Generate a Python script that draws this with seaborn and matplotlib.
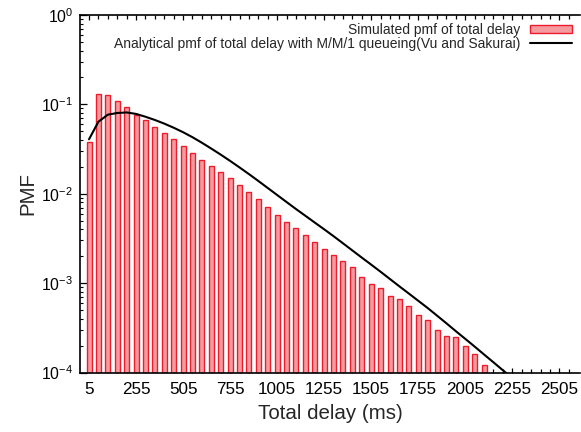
import matplotlib
matplotlib.use('Agg')
import matplotlib.pyplot as plt
import seaborn as sns

# delay bins (ms) for the simulated histogram
delays = [5, 55, 105, 155, 205, 255, 305, 355, 405, 455,
          505, 555, 605, 655, 705, 755, 805, 855, 905, 955,
          1005, 1055, 1105, 1155, 1205, 1255, 1305, 1355, 1405, 1455,
          1505, 1555, 1605, 1655, 1705, 1755, 1805, 1855, 1905, 1955,
          2005, 2055, 2105]
sim_pmf = [0.0377, 0.130, 0.126, 0.108, 0.0926, 0.0766, 0.0663, 0.0554, 0.0475, 0.0407,
           0.0340, 0.0289, 0.0241, 0.0205, 0.0174, 0.0150, 0.0126, 0.0104, 0.00869, 0.00711,
           0.00581, 0.00479, 0.00410, 0.00349, 0.00290, 0.00242, 0.00207, 0.00176, 0.00150, 0.00117,
           0.000967, 0.000877, 0.000724, 0.000664, 0.000560, 0.000445, 0.000384, 0.000299, 0.000256, 0.000250,
           0.000199, 0.000162, 0.000122]

# analytical curve (M/M/1, Vu and Sakurai)
line_delays = delays + [2155, 2205, 2255]
ana_pmf = [0.0407, 0.0640, 0.0767, 0.0801, 0.0812, 0.0782, 0.0727, 0.0669, 0.0609, 0.0548,
           0.0488, 0.0429, 0.0372, 0.0320, 0.0274, 0.0233, 0.0197, 0.0166, 0.0139, 0.0116,
           0.00968, 0.00808, 0.00675, 0.00567, 0.00476, 0.00400, 0.00335, 0.00279, 0.00232, 0.00193,
           0.00161, 0.00134, 0.00111, 0.000920, 0.000765, 0.000635, 0.000527, 0.000433, 0.000355, 0.000290,
           0.000238, 0.000195, 0.000159, 0.000130, 0.000106, 0.0000867]

xtick_pos = [5, 255, 505, 755, 1005, 1255, 1505, 1755, 2005, 2255, 2505]
xtick_labels = ['5', '255', '505', '755', '1005', '1255', '1505', '1755', '2005', '2255', '2505']
minor_pos = [5 + 50 * k for k in range(52)]

sns.set_style('ticks')
plt.rcParams['font.family'] = ['Liberation Sans', 'DejaVu Sans']

fig = plt.figure(figsize=(5.81, 4.32), dpi=100)
ax = fig.add_axes([0.1377, 0.1377, 0.8606, 0.8276])

sns.barplot(x=delays, y=sim_pmf, native_scale=True, width=0.53, saturation=1,
            color='#f59a9e', edgecolor='#ee1c2a', linewidth=1.0,
            label='Simulated pmf of total delay', ax=ax)
sns.lineplot(x=line_delays, y=ana_pmf, color='black', linewidth=1.5,
             label='Analytical pmf of total delay with M/M/1 queueing(Vu and Sakurai)', ax=ax)

ax.set_yscale('log')
ax.set_ylim(1e-4, 1)
ax.set_xlim(-43, 2615)
ax.set_xticks(xtick_pos)
ax.set_xticklabels(xtick_labels)
ax.set_xticks(minor_pos, minor=True)

ax.tick_params(axis='both', which='both', direction='in', top=True, right=False,
               colors='black')
ax.tick_params(axis='x', which='major', length=3.5, width=0.9, pad=7, labelsize=12.3)
ax.tick_params(axis='x', which='minor', length=3, width=0.9)
ax.tick_params(axis='y', which='major', length=5, width=0.9, pad=5, labelsize=11.3)
ax.tick_params(axis='y', which='minor', length=2.5, width=0.8)

for side in ['left', 'bottom', 'top']:
    ax.spines[side].set_color('black')
    ax.spines[side].set_linewidth(1.2)
ax.spines['right'].set_visible(False)

ax.set_xlabel('Total delay (ms)', fontsize=14.8, labelpad=5)
ax.set_ylabel('PMF', fontsize=14.8, labelpad=3)

# bars first, then the analytical curve
handles, labels = ax.get_legend_handles_labels()
order = [labels.index('Simulated pmf of total delay'),
         labels.index('Analytical pmf of total delay with M/M/1 queueing(Vu and Sakurai)')]
ax.legend([handles[i] for i in order], [labels[i] for i in order],
          loc='upper right', bbox_to_anchor=(0.984, 0.978), frameon=False,
          markerfirst=False, alignment='right', fontsize=10, borderpad=0,
          borderaxespad=0, handlelength=3.0, handleheight=0.55, labelspacing=0.0,
          handletextpad=0.7)

fig.savefig('out.png', dpi=100)
